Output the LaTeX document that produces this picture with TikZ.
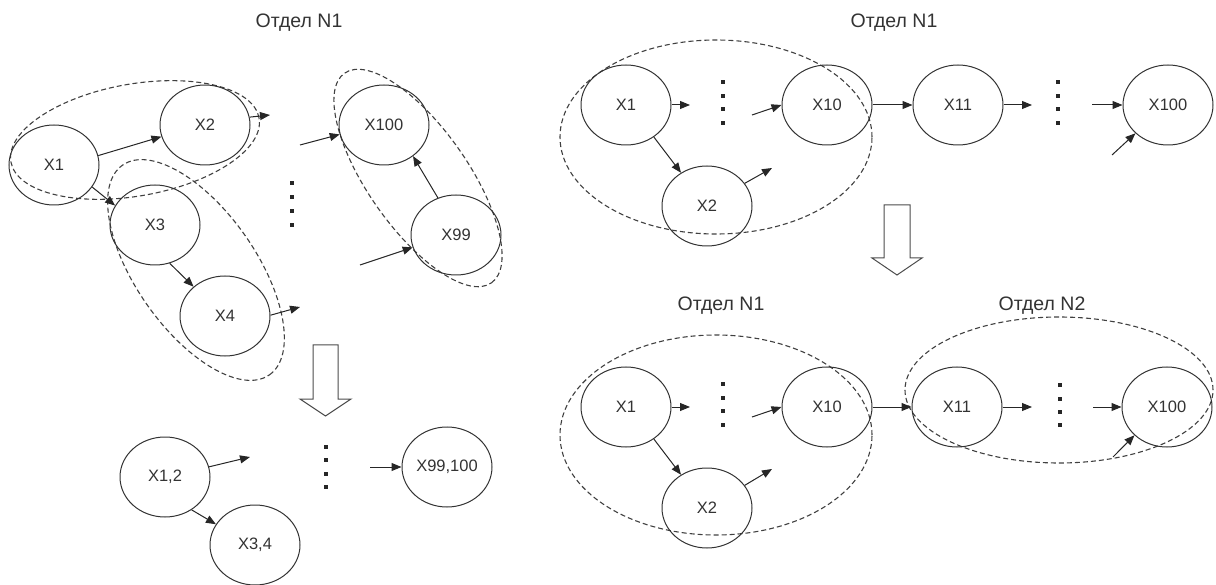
\documentclass[tikz,border=0pt]{standalone}
\usepackage{fontspec}
\setmainfont{Liberation Sans}
\usetikzlibrary{shapes.geometric,arrows.meta}
\begin{document}
\begin{tikzpicture}[x=1pt,y=1pt,
  st/.style={ellipse,draw=black!80,line width=1pt,minimum width=90pt,minimum height=80pt,inner sep=0pt,font=\fontsize{16.5}{18}\selectfont,text=black!80},
  grp/.style={ellipse,draw=black!75,line width=1.1pt,dash pattern=on 5pt off 3pt,inner sep=0pt},
  arr/.style={draw=black!85,line width=1pt,-{Triangle[length=10pt,width=8pt]}},
  ttl/.style={font=\fontsize{19.5}{22}\selectfont,text=black!80,inner sep=0pt},
  hollow/.style={draw=black!70,line width=1pt,fill=white,line join=miter}]
\useasboundingbox (0,0) rectangle (1216,-585);

% ---------- titles
\node[ttl] (t1) at (299,-23) {Отдел N1};
\node[ttl] (t2) at (894,-23) {Отдел N1};
\node[ttl] (t3) at (721,-306) {Отдел N1};
\node[ttl] (t4) at (1042,-306) {Отдел N2};

% ---------- dashed groups
\node[grp,minimum width=252pt,minimum height=112pt,rotate=10] (g1) at (135,-140) {};
\node[grp,minimum width=256pt,minimum height=120pt,rotate=-55] (g2) at (196,-270) {};
\node[grp,minimum width=256pt,minimum height=100pt,rotate=-55] (g3) at (418,-178) {};
\node[grp,minimum width=312pt,minimum height=194pt] (g4) at (716,-137) {};
\node[grp,minimum width=312pt,minimum height=200pt] (g5) at (716,-435) {};
\node[grp,minimum width=308pt,minimum height=146pt] (g6) at (1059,-390) {};

% ---------- left top
\node[st] (A1) at (54,-165) {X1};
\node[st] (A2) at (205,-125) {X2};
\node[st] (A3) at (155,-225) {X3};
\node[st] (A4) at (225,-316) {X4};
\node[st] (A100) at (384,-125) {X100};
\node[st] (A99) at (456,-235) {X99};
\coordinate (a2o) at (270,-115);
\coordinate (a4o) at (300,-307);
\coordinate (a100i) at (300,-145);
\coordinate (a99i) at (360,-265);
\draw[arr] (A1.12.5) -- (A2.195);
\draw[arr] (A1.-30) -- (A3.154);
\draw[arr] (A2.10) -- (a2o);
\draw[arr] (A3.-69) -- (A4.137);
\draw[arr] (A4.1) -- (a4o);
\draw[arr] (a100i) -- (A100.192.5);
\draw[arr] (A99.116.6) -- (A100.-47.8);
\draw[arr] (a99i) -- (A99.196);

% ---------- left bottom
\node[st] (B12) at (165,-477) {X1,2};
\node[st] (B34) at (255,-545) {X3,4};
\node[st] (B99) at (447,-467) {X99,100};
\coordinate (b12o) at (250,-457);
\coordinate (b99i) at (370,-467);
\draw[arr] (B12.13.7) -- (b12o);
\draw[arr] (B12.-51) -- (B34.152.8);
\draw[arr] (b99i) -- (B99.west);

% ---------- right top
\node[st] (C1) at (626,-105) {X1};
\node[st] (C2) at (707,-206) {X2};
\node[st] (C10) at (827,-105) {X10};
\node[st] (C11) at (958,-105) {X11};
\node[st] (C100) at (1168,-105) {X100};
\coordinate (c1o) at (690,-105);
\coordinate (c10i) at (752,-115);
\coordinate (c2o) at (772,-168);
\coordinate (c11o) at (1032,-105);
\coordinate (c100i) at (1092,-105);
\coordinate (c100j) at (1112,-155);
\draw[arr] (C1.east) -- (c1o);
\draw[arr] (c10i) -- (C10.west);
\draw[arr] (C1.-49) -- (C2.128);
\draw[arr] (C2.31) -- (c2o);
\draw[arr] (C10.east) -- (C11.west);
\draw[arr] (C11.east) -- (c11o);
\draw[arr] (c100i) -- (C100.west);
\draw[arr] (c100j) -- (C100.221.6);

% ---------- right bottom
\node[st] (D1) at (626,-407) {X1};
\node[st] (D2) at (707,-508) {X2};
\node[st] (D10) at (827,-407) {X10};
\node[st] (D11) at (957,-407) {X11};
\node[st] (D100) at (1167,-407) {X100};
\coordinate (d1o) at (690,-407);
\coordinate (d10i) at (752,-417);
\coordinate (d2o) at (772,-469);
\coordinate (d11o) at (1032,-407);
\coordinate (d100i) at (1093,-407);
\coordinate (d100j) at (1113,-457);
\draw[arr] (D1.east) -- (d1o);
\draw[arr] (d10i) -- (D10.west);
\draw[arr] (D1.-49) -- (D2.128);
\draw[arr] (D2.31) -- (d2o);
\draw[arr] (D10.east) -- (D11.west);
\draw[arr] (D11.east) -- (d11o);
\draw[arr] (d100i) -- (D100.west);
\draw[arr] (d100j) -- (D100.221.6);

% ---------- vertical dots
\foreach \x/\ya/\yb/\yc/\yd in {292/183/197/211/225, 326/447/460/474/487, 723/82/96/109/123, 1058/82/96/109/123, 723/384/398/411/425, 1060/385/399/412/425}{
  \foreach \y in {\ya,\yb,\yc,\yd}{
    \fill[black!85] (\x-1.8,-\y-1.8) rectangle ++(3.6,3.6);
  }
}

% ---------- hollow transition arrows
\draw[hollow] (313,-345) -- (338,-345) -- (338,-399) -- (351,-399) -- (325.5,-416) -- (300,-399) -- (313,-399) -- cycle;
\draw[hollow] (884,-205) -- (910,-205) -- (910,-258) -- (922,-258) -- (897,-275) -- (872,-258) -- (884,-258) -- cycle;
\end{tikzpicture}
\end{document}
